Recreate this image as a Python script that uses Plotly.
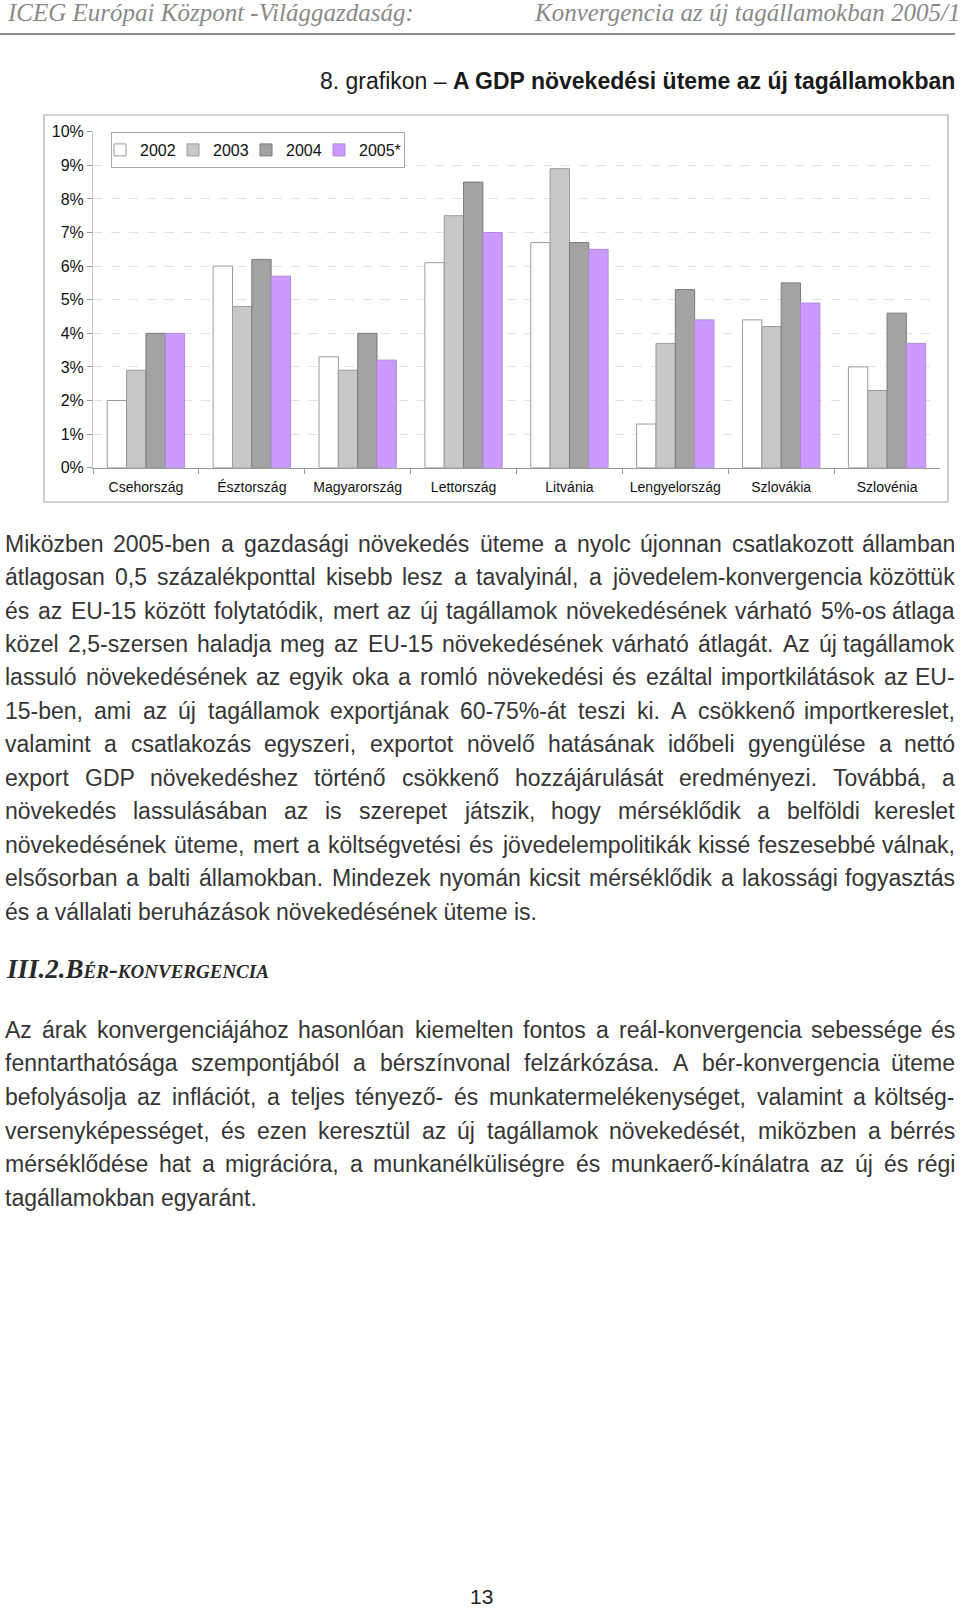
import plotly.graph_objects as go

W_PX, H_PX = 960, 1609

countries = ["Csehország", "Észtország", "Magyarország", "Lettország",
             "Litvánia", "Lengyelország", "Szlovákia", "Szlovénia"]
years = ["2002", "2003", "2004", "2005*"]
g2002 = [2.0, 6.0, 3.3, 6.1, 6.7, 1.3, 4.4, 3.0]
g2003 = [2.9, 4.8, 2.9, 7.5, 8.9, 3.7, 4.2, 2.3]
g2004 = [4.0, 6.2, 4.0, 8.5, 6.7, 5.3, 5.5, 4.6]
g2005 = [4.0, 5.7, 3.2, 7.0, 6.5, 4.4, 4.9, 3.7]
series = [g2002, g2003, g2004, g2005]
y_ticks = list(range(0, 11))
y_tick_labels = [f"{v}%" for v in y_ticks]

header_left = "ICEG Európai Központ -Világgazdaság:"
header_right = "Konvergencia az új tagállamokban 2005/1"
title_plain = "8. grafikon – "
title_bold = "A GDP növekedési üteme az új tagállamokban"
section_head = "III.2.Bér-konvergencia"
page_no = "13"

para1 = [
    "Miközben 2005-ben a gazdasági növekedés üteme a nyolc újonnan csatlakozott államban",
    "átlagosan 0,5 százalékponttal kisebb lesz a tavalyinál, a jövedelem-konvergencia közöttük",
    "és az EU-15 között folytatódik, mert az új tagállamok növekedésének várható 5%-os átlaga",
    "közel 2,5-szersen haladja meg az EU-15 növekedésének várható átlagát. Az új tagállamok",
    "lassuló növekedésének az egyik oka a romló növekedési és ezáltal importkilátások az EU-",
    "15-ben, ami az új tagállamok exportjának 60-75%-át teszi ki. A csökkenő importkereslet,",
    "valamint a csatlakozás egyszeri, exportot növelő hatásának időbeli gyengülése a nettó",
    "export GDP növekedéshez történő csökkenő hozzájárulását eredményezi. Továbbá, a",
    "növekedés lassulásában az is szerepet játszik, hogy mérséklődik a belföldi kereslet",
    "növekedésének üteme, mert a költségvetési és jövedelempolitikák kissé feszesebbé válnak,",
    "elsősorban a balti államokban. Mindezek nyomán kicsit mérséklődik a lakossági fogyasztás",
    "és a vállalati beruházások növekedésének üteme is.",
]
para2 = [
    "Az árak konvergenciájához hasonlóan kiemelten fontos a reál-konvergencia sebessége és",
    "fenntarthatósága szempontjából a bérszínvonal felzárkózása. A bér-konvergencia üteme",
    "befolyásolja az inflációt, a teljes tényező- és munkatermelékenységet, valamint a költség-",
    "versenyképességet, és ezen keresztül az új tagállamok növekedését, miközben a bérrés",
    "mérséklődése hat a migrációra, a munkanélküliségre és munkaerő-kínálatra az új és régi",
    "tagállamokban egyaránt.",
]

colors = ["#FFFFFF", "#C8C8C8", "#A3A3A3", "#CC99FF"]
outlines = ["#9A9A9A", "#9A9A9A", "#7A7A7A", "#B08AD8"]


def px(x):
    return x / W_PX


def py(y):
    return 1 - y / H_PX


fig = go.Figure()
for name, vals, c, oc in zip(years, series, colors, outlines):
    fig.add_trace(go.Bar(x=countries, y=vals, name=name,
                         marker=dict(color=c, line=dict(color=oc, width=1))))

fig.update_layout(
    width=W_PX, height=H_PX,
    margin=dict(l=0, r=0, t=0, b=0, pad=0, autoexpand=False),
    paper_bgcolor="white", plot_bgcolor="white",
    barmode="group", bargap=0.27, bargroupgap=0,
    font=dict(family="Liberation Sans, Arial, sans-serif", color="#111"),
    xaxis=dict(domain=[px(93), px(940)], showline=True, linecolor="#9a9a9a",
               ticks="outside", tickson="boundaries", ticklen=5, tickcolor="#9a9a9a",
               ticklabelstandoff=6, automargin=False,
               tickfont=dict(size=14, color="#111"), showgrid=False),
    yaxis=dict(domain=[py(467.7), py(131.7)], range=[0, 10], tickvals=y_ticks,
               ticktext=y_tick_labels, showline=True, linecolor="#c8c8c8",
               ticks="outside", ticklen=5, tickcolor="#9a9a9a", automargin=False,
               tickfont=dict(size=16, color="#111"),
               showgrid=True, gridcolor="#e2e2e2", griddash="dash", zeroline=False),
    legend=dict(orientation="h", x=px(111), y=py(132), xanchor="left", yanchor="top",
                bgcolor="white", bordercolor="#a8a8a8", borderwidth=1,
                font=dict(size=16, color="#111"), itemwidth=30, tracegroupgap=0,
                indentation=-12, entrywidth=40, entrywidthmode="pixels"),
    showlegend=True,
)

shapes = [
    dict(type="rect", xref="paper", yref="paper", x0=px(44), x1=px(948), y0=py(502), y1=py(115),
         line=dict(color="#a8a8a8", width=1.2), layer="below"),
    dict(type="line", xref="paper", yref="paper", x0=0, x1=px(955), y0=py(34), y1=py(34),
         line=dict(color="#8c8c8c", width=2)),
]
fig.update_layout(shapes=shapes)

ann = []
ann.append(dict(text=header_left, x=px(5), y=py(12), xanchor="left", yanchor="middle",
                font=dict(family="Liberation Serif, serif", size=25, color="#8a8a8a", style="italic")))
ann.append(dict(text=header_right, x=px(962), y=py(12), xanchor="right", yanchor="middle",
                font=dict(family="Liberation Serif, serif", size=25, color="#8a8a8a", style="italic")))
ann.append(dict(text=title_plain + "<b>" + title_bold + "</b>", x=px(957), y=py(81),
                xanchor="right", yanchor="middle",
                font=dict(family="Liberation Sans, Arial, sans-serif", size=23, color="#1a1a1a")))
ann.append(dict(text=section_head, x=px(4), y=py(969), xanchor="left", yanchor="middle",
                font=dict(family="Liberation Serif, serif", size=27, color="#2a2a2a", style="italic",
                          weight="bold", variant="small-caps")))
ann.append(dict(text=page_no, x=px(481), y=py(1596), xanchor="center", yanchor="middle",
                font=dict(family="Liberation Sans, Arial, sans-serif", size=21, color="#222")))

AW = {' ': 278, '%': 889, ',': 278, '.': 278, '-': 333, ':': 278, '–': 556,
      'A': 667, 'B': 667, 'C': 722, 'D': 722, 'E': 667, 'F': 611, 'G': 778, 'H': 722, 'I': 278,
      'J': 500, 'K': 667, 'L': 556, 'M': 833, 'N': 722, 'O': 778, 'P': 667, 'Q': 778, 'R': 722,
      'S': 667, 'T': 611, 'U': 722, 'V': 667, 'W': 944, 'X': 667, 'Y': 667, 'Z': 611,
      'a': 556, 'b': 556, 'c': 500, 'd': 556, 'e': 556, 'f': 278, 'g': 556, 'h': 556, 'i': 222,
      'j': 222, 'k': 500, 'l': 222, 'm': 833, 'n': 556, 'o': 556, 'p': 556, 'q': 556, 'r': 333,
      's': 500, 't': 278, 'u': 556, 'v': 500, 'w': 722, 'x': 500, 'y': 500, 'z': 500,
      'á': 556, 'é': 556, 'í': 278, 'ó': 556, 'ö': 556, 'ő': 556, 'ú': 556, 'ü': 556, 'ű': 556,
      'É': 667, 'Á': 667}
BODY_SIZE = 23
BODY_FONT = dict(family="Liberation Sans, Arial, sans-serif", size=BODY_SIZE, color="#353535")
LEFT, RIGHT = 4, 956


def tw(s):
    return sum(AW.get(ch, 556) for ch in s) / 1000 * BODY_SIZE


def add_para(lines, y0, dy):
    for i, line in enumerate(lines):
        y = y0 + i * dy
        if i == len(lines) - 1:
            ann.append(dict(text=line, x=px(LEFT), y=py(y), xanchor="left", yanchor="middle",
                            font=BODY_FONT, borderpad=0))
            continue
        words = line.split(" ")
        widths = [tw(w) for w in words]
        gap = (RIGHT - LEFT - sum(widths)) / (len(words) - 1)
        x = LEFT
        for j, (w, wd) in enumerate(zip(words, widths)):
            if j == len(words) - 1:
                ann.append(dict(text=w, x=px(RIGHT), y=py(y), xanchor="right", yanchor="middle",
                                font=BODY_FONT, borderpad=0))
            else:
                ann.append(dict(text=w, x=px(x), y=py(y), xanchor="left", yanchor="middle",
                                font=BODY_FONT, borderpad=0))
            x += wd + gap


add_para(para1, 543.6, 33.47)
add_para(para2, 1029.7, 33.64)

for a in ann:
    a.setdefault("xref", "paper")
    a.setdefault("yref", "paper")
    a.setdefault("showarrow", False)
fig.update_layout(annotations=ann)

fig.write_html("out.html")
